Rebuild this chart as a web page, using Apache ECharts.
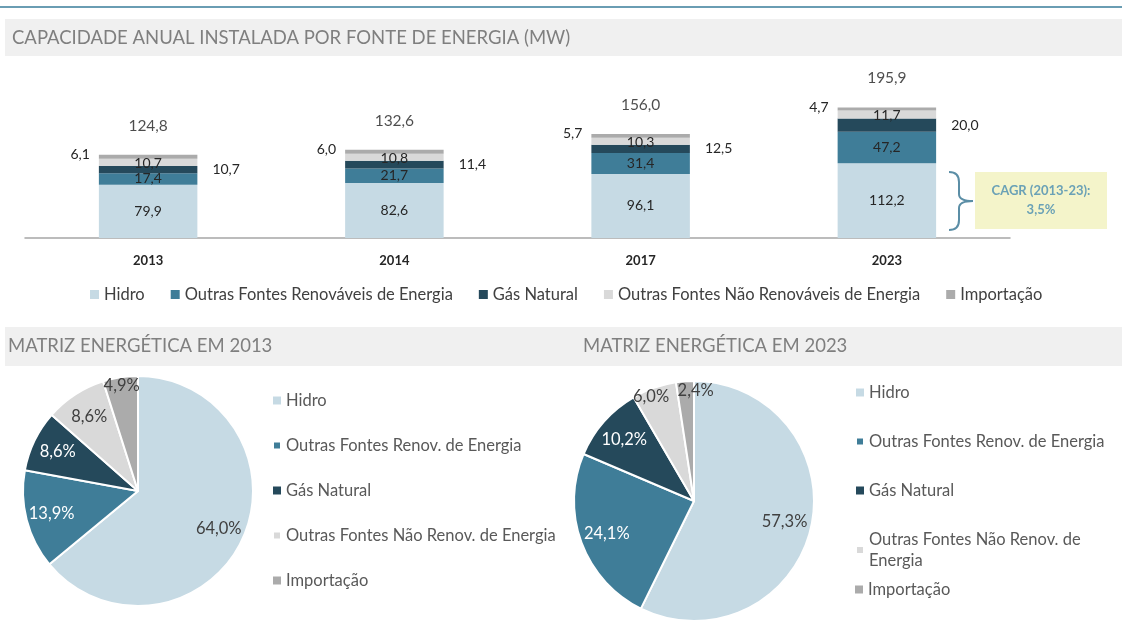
<!DOCTYPE html>
<html>
<head>
<meta charset="utf-8">
<script src="https://cdn.jsdelivr.net/npm/echarts@6/dist/echarts.min.js"></script>
<style>
  html, body { margin: 0; padding: 0; background: #ffffff; }
  #chart { width: 1122px; height: 644px; }
</style>
</head>
<body>
<div id="chart"></div>
<script>
// Capacidade instalada por fonte (MW)
const years = ['2013', '2014', '2017', '2023'];
const hidro = [79.9, 82.6, 96.1, 112.2];
const renovaveis = [17.4, 21.7, 31.4, 47.2];
const gasNatural = [10.7, 11.4, 12.5, 20.0];
const naoRenovaveis = [10.7, 10.8, 10.3, 11.7];
const importacao = [6.1, 6.0, 5.7, 4.7];
const totals = [124.8, 132.6, 156.0, 195.9];

// Matriz energética (%)
const pieNames = ['Hidro', 'Outras Fontes Renov. de Energia', 'Gás Natural',
  'Outras Fontes Não Renov. de Energia', 'Importação'];
const matriz2013 = [64.0, 13.9, 8.6, 8.6, 4.9];
const matriz2023 = [57.3, 24.1, 10.2, 6.0, 2.4];

const cagrLines = ['CAGR (2013-23):', '3,5%'];
const titles = ['CAPACIDADE ANUAL INSTALADA POR FONTE DE ENERGIA (MW)',
  'MATRIZ ENERGÉTICA EM 2013', 'MATRIZ ENERGÉTICA EM 2023'];

const FONT = "Lato, 'Open Sans', sans-serif";
const colors = ['#c6dae4', '#3f7d98', '#25495b', '#d9d9d9', '#ababab'];
const pieLabelColors = ['#404040', '#ffffff', '#ffffff', '#404040', '#404040'];
const fmt = v => v.toFixed(1).replace('.', ',');

const barNames = ['Hidro', 'Outras Fontes Renováveis de Energia', 'Gás Natural',
  'Outras Fontes Não Renováveis de Energia', 'Importação'];
const barValues = [hidro, renovaveis, gasNatural, naoRenovaveis, importacao];
const barLabelPos = [
  { position: 'inside' },
  { position: 'inside' },
  { position: 'right', distance: 15 },
  { position: 'inside', offset: [0, 1] },
  { position: 'left', distance: 9, offset: [0, -2] }
];

const barSeries = barNames.map((name, i) => ({
  name,
  type: 'bar',
  stack: 'total',
  barWidth: '40%',
  data: barValues[i],
  itemStyle: { color: colors[i] },
  label: Object.assign({
    show: true,
    formatter: p => fmt(p.value),
    fontFamily: FONT,
    fontSize: 14,
    color: '#262626'
  }, barLabelPos[i]),
  emphasis: { disabled: true }
}));

const totalSeries = {
  name: 'Total',
  type: 'scatter',
  data: totals,
  symbolSize: 0,
  label: {
    show: true,
    position: 'top',
    distance: 21,
    formatter: p => fmt(p.value),
    fontFamily: FONT,
    fontSize: 15.5,
    color: '#1f1f1f'
  },
  silent: true
};

// Percentage labels sit on one of two rings: mid-slice or near the rim
// for the thin slices; small nudges keep neighbouring rim labels apart.
function pieSeries(values, center, radius, rimLabels, nudges) {
  const base = {
    type: 'pie',
    center,
    startAngle: 90,
    clockwise: true,
    silent: true,
    avoidLabelOverlap: false,
    emphasis: { disabled: true },
    labelLine: { show: false }
  };
  const shape = Object.assign({}, base, {
    radius: [0, radius],
    data: values.map((v, i) => ({ name: pieNames[i], value: v, itemStyle: { color: colors[i] } })),
    itemStyle: { borderColor: '#ffffff', borderWidth: 2 },
    label: { show: false }
  });
  const ring = (inner, onRim) => Object.assign({}, base, {
    radius: [radius * inner, radius],
    data: values.map((v, i) => ({
      name: pieNames[i], value: v,
      itemStyle: { color: 'rgba(0,0,0,0)' },
      label: {
        show: rimLabels[i] === onRim,
        color: pieLabelColors[i],
        offset: nudges[i] || [0, 0]
      }
    })),
    label: {
      position: 'inside',
      formatter: p => fmt(p.value) + '%',
      fontFamily: FONT,
      fontSize: 16.5
    }
  });
  return [shape, ring(0.5, false), ring(0.8, true)];
}

const legendText = { fontFamily: FONT, fontSize: 16.5, color: '#404040' };
const pieLegendText = { fontFamily: FONT, fontSize: 16.5, color: '#595959', lineHeight: 21 };

// curly brace beside the 2023 hydro block
const braceStyle = { fill: 'none', stroke: '#5b8ea6', lineWidth: 2 };
const brace = [
  { type: 'bezierCurve', shape: { x1: 949, y1: 172, cpx1: 959, cpy1: 172, x2: 959, y2: 182 } },
  { type: 'line', shape: { x1: 959, y1: 182, x2: 959, y2: 194 } },
  { type: 'bezierCurve', shape: { x1: 959, y1: 194, cpx1: 959, cpy1: 201, x2: 973, y2: 201 } },
  { type: 'bezierCurve', shape: { x1: 973, y1: 201, cpx1: 959, cpy1: 201, x2: 959, y2: 208 } },
  { type: 'line', shape: { x1: 959, y1: 208, x2: 959, y2: 220 } },
  { type: 'bezierCurve', shape: { x1: 959, y1: 220, cpx1: 959, cpy1: 230, x2: 949, y2: 230 } }
].map(el => Object.assign(el, { style: braceStyle, silent: true }));

const legendBase = {
  itemWidth: 9, itemHeight: 9,
  icon: 'rect',
  padding: 0,
  selectedMode: false
};

const option = {
  animation: false,
  backgroundColor: '#ffffff',
  grid: { left: 25, right: 112, top: 58, height: 180 },
  xAxis: {
    type: 'category',
    data: years,
    axisLine: { lineStyle: { color: '#a6a6a6', width: 1.5 } },
    axisTick: { show: false },
    axisLabel: { fontFamily: FONT, fontSize: 13, fontWeight: 'bold', color: '#262626', margin: 16 }
  },
  yAxis: { type: 'value', min: 0, max: 270, show: false, splitLine: { show: false } },
  legend: [
    Object.assign({}, legendBase, {
      data: barNames,
      left: 90, top: 286,
      itemGap: 26,
      textStyle: legendText
    }),
    Object.assign({}, legendBase, {
      data: pieNames,
      orient: 'vertical',
      left: 272, top: 390,
      itemWidth: 8, itemHeight: 8, itemGap: 24,
      textStyle: pieLegendText
    }),
    Object.assign({}, legendBase, {
      data: pieNames.slice(0, 4),
      orient: 'vertical',
      left: 855, top: 382,
      itemWidth: 8, itemHeight: 8, itemGap: 28,
      textStyle: Object.assign({ width: 250, overflow: 'break' }, pieLegendText)
    }),
    Object.assign({}, legendBase, {
      data: pieNames.slice(4),
      orient: 'vertical',
      left: 855, top: 579,
      itemWidth: 8, itemHeight: 8,
      textStyle: pieLegendText
    })
  ],
  series: barSeries.concat([totalSeries])
    .concat(pieSeries(matriz2013, [138, 491], 115,
      [false, false, false, false, true], []))
    .concat(pieSeries(matriz2023, [694, 501], 120,
      [false, false, false, true, true], [null, null, null, [-6, 0], [10, 0]])),
  graphic: [
    // header rule and section title bands
    { type: 'rect', shape: { x: 0, y: 6, width: 1122, height: 2 }, style: { fill: '#6a9db3' }, silent: true },
    { type: 'rect', shape: { x: 5, y: 19, width: 1117, height: 37 }, style: { fill: '#f0f0f0' }, silent: true },
    { type: 'rect', shape: { x: 5, y: 327, width: 1117, height: 39 }, style: { fill: '#f0f0f0' }, silent: true },
    { type: 'text', x: 12, y: 38, style: { text: titles[0], font: "18.5px " + FONT, fill: '#7f7f7f', verticalAlign: 'middle' }, silent: true },
    { type: 'text', x: 8, y: 346, style: { text: titles[1], font: "18.5px " + FONT, fill: '#7f7f7f', verticalAlign: 'middle' }, silent: true },
    { type: 'text', x: 583, y: 346, style: { text: titles[2], font: "18.5px " + FONT, fill: '#7f7f7f', verticalAlign: 'middle' }, silent: true },
    { type: 'rect', shape: { x: 975, y: 172, width: 132, height: 57 }, style: { fill: '#f4f4ca' }, silent: true },
    {
      type: 'text', x: 1041, y: 200,
      style: {
        text: cagrLines.join('\n'),
        font: "bold 13px " + FONT, fill: '#6aa1b6',
        align: 'center', verticalAlign: 'middle', lineHeight: 19
      },
      silent: true
    }
  ].concat(brace)
};

const chart = echarts.init(document.getElementById('chart'), null, { renderer: 'canvas' });
chart.setOption(option);
</script>
</body>
</html>
